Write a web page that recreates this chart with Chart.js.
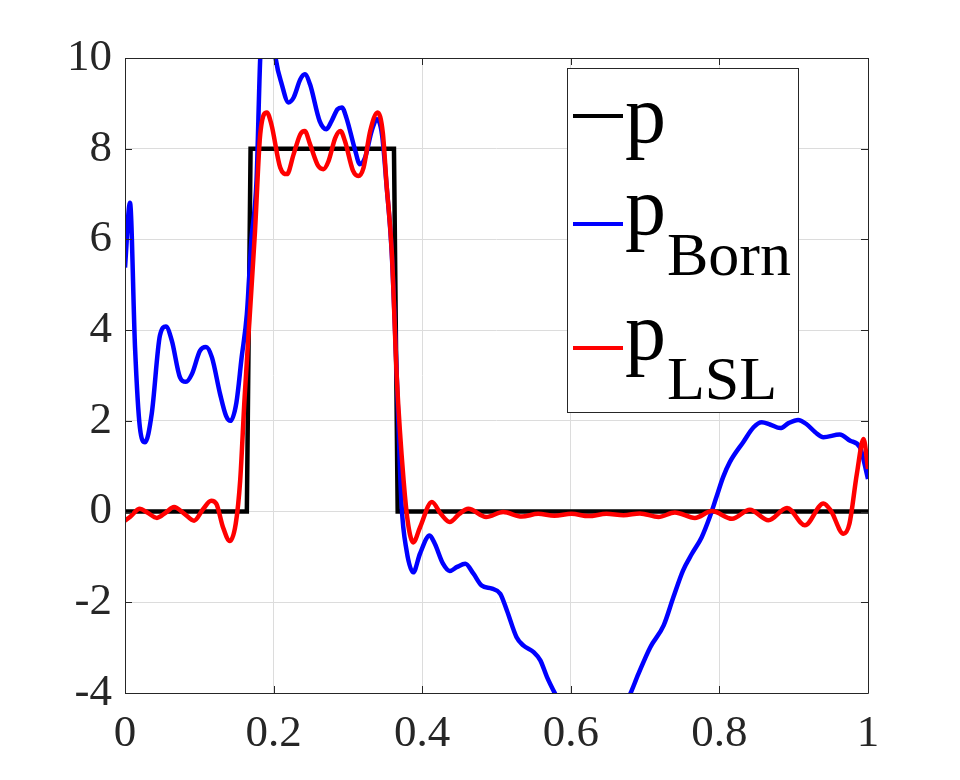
<!DOCTYPE html>
<html>
<head>
<meta charset="utf-8">
<script src="https://cdn.jsdelivr.net/npm/chart.js@4.4.1/dist/chart.umd.min.js"></script>
<style>
  html, body { margin:0; padding:0; background:#fff; }
  #wrap { position:relative; width:960px; height:780px; }
  #legend { position:absolute; left:567px; top:68px; width:230px; height:343px; border:1px solid #262626; background:#fff; }
  .ls { position:absolute; left:5px; width:50px; height:4px; }
  .lt { position:absolute; font-family:'Liberation Serif','Times New Roman',serif; color:#000; line-height:1; white-space:nowrap; }
</style>
</head>
<body>
<div id="wrap">
  <canvas id="c" width="960" height="780"></canvas>
  <div id="legend"></div>
</div>
<script>
// ---- data ----
const xTicks = [0, 0.2, 0.4, 0.6, 0.8, 1];
const yTicks = [-4, -2, 0, 2, 4, 6, 8, 10];

const seriesNames = ['p', 'p_Born', 'p_LSL'];
const seriesColors = ['#000000', '#0000ff', '#ff0000'];

const xP = [0, 0.164, 0.169, 0.362, 0.367, 1];
const yP = [0, 0, 8, 8, 0, 0];

const xBorn = [0, 0.0067, 0.0135, 0.020, 0.027, 0.036, 0.047, 0.055, 0.063, 0.074, 0.082, 0.090, 0.101, 0.109, 0.117, 0.128, 0.136, 0.142, 0.150, 0.157, 0.164, 0.170, 0.177, 0.182, 0.187, 0.193, 0.198, 0.203, 0.211, 0.220, 0.227, 0.236, 0.242, 0.249, 0.262, 0.271, 0.278, 0.286, 0.292, 0.298, 0.310, 0.316, 0.323, 0.332, 0.339, 0.346, 0.352, 0.359, 0.366, 0.372, 0.379, 0.388, 0.397, 0.410, 0.417, 0.428, 0.437, 0.447, 0.458, 0.469, 0.480, 0.494, 0.505, 0.514, 0.527, 0.536, 0.550, 0.559, 0.568, 0.579, 0.59, 0.61, 0.63, 0.65, 0.67, 0.680, 0.691, 0.707, 0.725, 0.738, 0.751, 0.763, 0.776, 0.787, 0.796, 0.805, 0.814, 0.832, 0.846, 0.857, 0.868, 0.882, 0.893, 0.906, 0.917, 0.929, 0.940, 0.962, 0.976, 0.989, 1.0];
const yBorn = [5.38, 6.81, 3.62, 1.86, 1.53, 2.16, 3.88, 4.08, 3.77, 2.96, 2.86, 3.03, 3.55, 3.63, 3.40, 2.59, 2.11, 2.00, 2.41, 3.40, 4.35, 5.97, 7.29, 10.0, 11.2, 11.4, 10.7, 9.97, 9.42, 9.02, 9.13, 9.53, 9.64, 9.42, 8.61, 8.43, 8.61, 8.87, 8.91, 8.68, 7.95, 7.66, 7.80, 8.39, 8.65, 8.3, 7.2, 5.7, 2.9, 0.2, -0.86, -1.34, -0.93, -0.53, -0.71, -1.15, -1.31, -1.22, -1.15, -1.37, -1.63, -1.70, -1.81, -2.18, -2.77, -2.95, -3.10, -3.28, -3.65, -4.02, -4.35, -4.7, -4.85, -4.75, -4.35, -4.02, -3.58, -2.99, -2.51, -1.89, -1.30, -0.93, -0.57, -0.12, 0.32, 0.76, 1.09, 1.53, 1.86, 1.97, 1.92, 1.84, 1.95, 2.02, 1.93, 1.75, 1.64, 1.70, 1.56, 1.42, 0.72];

const xLSL = [0, 0.0067, 0.020, 0.030, 0.043, 0.055, 0.066, 0.080, 0.093, 0.105, 0.116, 0.123, 0.132, 0.141, 0.149, 0.155, 0.161, 0.168, 0.175, 0.182, 0.191, 0.197, 0.209, 0.218, 0.227, 0.236, 0.242, 0.249, 0.260, 0.267, 0.274, 0.283, 0.290, 0.296, 0.307, 0.314, 0.321, 0.330, 0.340, 0.347, 0.352, 0.359, 0.366, 0.375, 0.381, 0.388, 0.397, 0.413, 0.425, 0.437, 0.450, 0.462, 0.486, 0.509, 0.534, 0.556, 0.578, 0.601, 0.624, 0.648, 0.671, 0.693, 0.718, 0.740, 0.767, 0.790, 0.817, 0.841, 0.866, 0.891, 0.915, 0.940, 0.950, 0.967, 0.975, 0.985, 0.994, 1.0];
const yLSL = [-0.2, -0.12, 0.06, -0.02, -0.14, -0.02, 0.10, -0.05, -0.2, 0.05, 0.24, 0.17, -0.35, -0.65, -0.27, 0.68, 2.52, 4.35, 6.19, 8.32, 8.80, 8.54, 7.58, 7.44, 7.88, 8.32, 8.39, 8.10, 7.62, 7.55, 7.73, 8.24, 8.39, 8.17, 7.51, 7.40, 7.58, 8.39, 8.80, 8.35, 7.22, 5.75, 2.89, 0.68, -0.27, -0.68, -0.35, 0.21, -0.05, -0.23, -0.05, 0.06, -0.12, -0.01, -0.11, -0.05, -0.09, -0.05, -0.10, -0.05, -0.08, -0.04, -0.12, -0.02, -0.14, 0.01, -0.16, 0.04, -0.19, 0.08, -0.30, 0.18, 0.02, -0.49, -0.27, 0.83, 1.60, 0.94];

// ---- build ----
const pts = (xs, ys) => xs.map((x, i) => ({ x: x, y: ys[i] }));
const FONT = "'Liberation Serif','Times New Roman',serif";

const boxTicks = {
  id: 'boxTicks',
  afterDatasetsDraw(chart) {
    const { ctx, chartArea: a, scales } = chart;
    ctx.save();
    ctx.strokeStyle = '#262626';
    ctx.lineWidth = 1;
    ctx.beginPath();
    ctx.rect(Math.round(a.left) + 0.5, Math.round(a.top) + 0.5, Math.round(a.right - a.left), Math.round(a.bottom - a.top));
    ctx.stroke();
    const L = 7;
    ctx.beginPath();
    scales.x.ticks.forEach(t => {
      const px = Math.round(scales.x.getPixelForValue(t.value)) + 0.5;
      ctx.moveTo(px, a.bottom); ctx.lineTo(px, a.bottom - L);
      ctx.moveTo(px, a.top); ctx.lineTo(px, a.top + L);
    });
    scales.y.ticks.forEach(t => {
      const py = Math.round(scales.y.getPixelForValue(t.value)) + 0.5;
      ctx.moveTo(a.left, py); ctx.lineTo(a.left + L, py);
      ctx.moveTo(a.right, py); ctx.lineTo(a.right - L, py);
    });
    ctx.stroke();
    ctx.restore();
  }
};

new Chart(document.getElementById('c'), {
  type: 'line',
  data: {
    datasets: [
      { label: seriesNames[0], data: pts(xP, yP), borderColor: seriesColors[0], borderWidth: 4.5, pointRadius: 0, tension: 0, order: 3, clip: 0 },
      { label: seriesNames[1], data: pts(xBorn, yBorn), borderColor: seriesColors[1], borderWidth: 4.5, pointRadius: 0, cubicInterpolationMode: 'monotone', borderJoinStyle: 'round', order: 2, clip: 0 },
      { label: seriesNames[2], data: pts(xLSL, yLSL), borderColor: seriesColors[2], borderWidth: 4.5, pointRadius: 0, cubicInterpolationMode: 'monotone', borderJoinStyle: 'round', order: 1, clip: 0 }
    ]
  },
  options: {
    responsive: false,
    animation: false,
    devicePixelRatio: 1,
    layout: { padding: { left: 0, top: 58, right: 92, bottom: 0 } },
    plugins: { legend: { display: false }, tooltip: { enabled: false } },
    scales: {
      x: {
        type: 'linear', min: 0, max: 1,
        afterBuildTicks: s => { s.ticks = xTicks.map(v => ({ value: v })); },
        afterFit: s => { s.height = 87; },
        grid: { color: '#dcdcdc', lineWidth: 1, drawTicks: false },
        border: { display: false },
        ticks: { font: { family: FONT, size: 45 }, color: '#262626', padding: 14, maxRotation: 0,
                 callback: v => String(v) }
      },
      y: {
        type: 'linear', min: -4, max: 10,
        afterBuildTicks: s => { s.ticks = yTicks.map(v => ({ value: v })); },
        afterFit: s => { s.width = 125; },
        grid: { color: '#dcdcdc', lineWidth: 1, drawTicks: false },
        border: { display: false },
        ticks: { font: { family: FONT, size: 45 }, color: '#262626', padding: 13,
                 callback: v => String(v) }
      }
    }
  },
  plugins: [boxTicks]
});

// ---- HTML legend (real text) ----
const leg = document.getElementById('legend');
const rows = [
  { lineTop: 45, main: 'p', mainTop: 5, sub: '', subTop: 0 },
  { lineTop: 153, main: 'p', mainTop: 97, sub: 'Born', subTop: 154 },
  { lineTop: 277, main: 'p', mainTop: 222, sub: 'LSL', subTop: 278 }
];
rows.forEach((r, i) => {
  const ln = document.createElement('div');
  ln.className = 'ls';
  ln.style.top = r.lineTop + 'px';
  ln.style.background = seriesColors[i];
  leg.appendChild(ln);
  const m = document.createElement('div');
  m.className = 'lt';
  m.style.left = '57px';
  m.style.top = r.mainTop + 'px';
  m.style.fontSize = '82px';
  m.textContent = r.main;
  leg.appendChild(m);
  if (r.sub) {
    const s = document.createElement('div');
    s.className = 'lt';
    s.style.left = '99px';
    s.style.top = r.subTop + 'px';
    s.style.fontSize = '62px';
    s.textContent = r.sub;
    leg.appendChild(s);
  }
});
</script>
</body>
</html>
